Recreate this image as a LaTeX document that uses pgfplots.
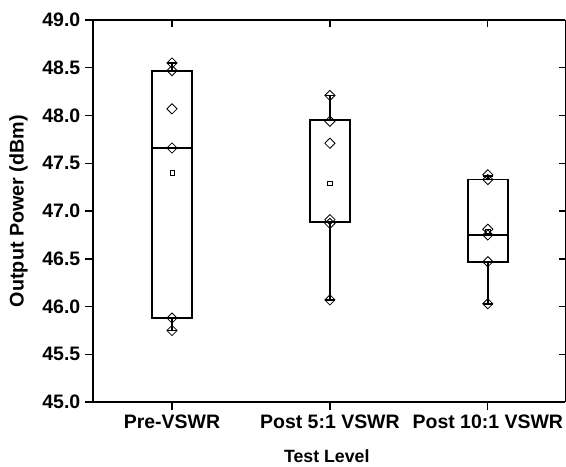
\documentclass[border=0pt]{standalone}
\usepackage{fontspec}
\setmainfont{Liberation Sans}
\usepackage{pgfplots}
\pgfplotsset{compat=1.18}
\usepgfplotslibrary{statistics}
\begin{document}
\begin{tikzpicture}[font=\bfseries]
\begin{axis}[
  name=ax,
  scale only axis, width=354pt, height=286.5pt,
  xmin=0.5, xmax=3.49, ymin=45, ymax=49,
  axis x line*=bottom, axis y line*=left,
  tick align=outside,
  major tick length=6pt,
  xtick={1,2,3},
  xticklabels={Pre-VSWR, Post 5:1 VSWR, Post 10:1 VSWR},
  ytick={45,45.5,46,46.5,47,47.5,48,48.5,49},
  /pgf/number format/assume math mode=true,
  yticklabel style={/pgf/number format/.cd, fixed, fixed zerofill, precision=1},
  ticklabel style={font=\fontsize{14.6}{16}\selectfont\bfseries},
  xlabel={Test Level},
  ylabel={Output Power (dBm)},
  xlabel style={font=\fontsize{13.3}{15}\selectfont\bfseries, at={(axis description cs:0.495,0)}, anchor=base, yshift=-45pt},
  ylabel style={font=\fontsize{14.8}{16}\selectfont\bfseries, at={(axis description cs:-0.158,0.5)}, anchor=center},
  axis line style={line width=1pt, black},
  x axis line style={shorten <=-6pt},
  tick style={line width=1pt, black},
  boxplot/draw direction=y,
  boxplot/box extend=0.25,
  boxplot/whisker extend=0.06,
  boxplot/every box/.style={draw=black, line width=1.4pt},
  boxplot/every median/.style={draw=black, line width=1.4pt},
  boxplot/every whisker/.style={draw=black, line width=1.4pt},
  bx/.style={black, solid, mark=none, line width=1.4pt},
]
\addplot[bx, boxplot prepared={draw position=1, lower whisker=45.75, lower quartile=45.88, median=47.66, upper quartile=48.47, upper whisker=48.55}] coordinates {};
\addplot[bx, boxplot prepared={draw position=2, lower whisker=46.07, lower quartile=46.88, median=46.89, upper quartile=47.95, upper whisker=48.21}] coordinates {};
\addplot[bx, boxplot prepared={draw position=3, lower whisker=46.03, lower quartile=46.47, median=46.75, upper quartile=47.33, upper whisker=47.37}] coordinates {};
\addplot[only marks, mark=square, mark size=2.7pt, mark options={rotate=45, line width=0.6pt, black, fill=none}] coordinates {
(1,48.55) (1,48.47) (1,48.07) (1,47.66) (1,45.88) (1,45.75)
(2,48.21) (2,47.94) (2,47.71) (2,46.91) (2,46.87) (2,46.07)
(3,47.38) (3,47.33) (3,46.81) (3,46.75) (3,46.47) (3,46.03)
};
\addplot[only marks, mark=square, mark size=1.6pt, mark options={line width=0.5pt, black, fill=none}] coordinates {
(1,47.40) (2,47.29) (3,46.79)
};
\end{axis}
\begin{axis}[
  scale only axis, width=354pt, height=286.5pt,
  xmin=0.5, xmax=3.49, ymin=45, ymax=49,
  axis x line*=top, axis y line*=right,
  tick align=inside,
  major tick length=5pt,
  xtick={1,2,3}, xticklabels={},
  ytick={45,45.5,46,46.5,47,47.5,48,48.5,49}, yticklabels={},
  axis line style={line width=1pt, black},
  x axis line style={shorten <=-6pt},
  tick style={line width=1pt, black},
]
\end{axis}
\path (ax.south west) ++(-69.75pt,-48pt) coordinate (bbA);
\path (ax.north east) ++(0.6pt,15pt) coordinate (bbB);
\pgfresetboundingbox
\path (bbA) rectangle (bbB);
\end{tikzpicture}
\end{document}
